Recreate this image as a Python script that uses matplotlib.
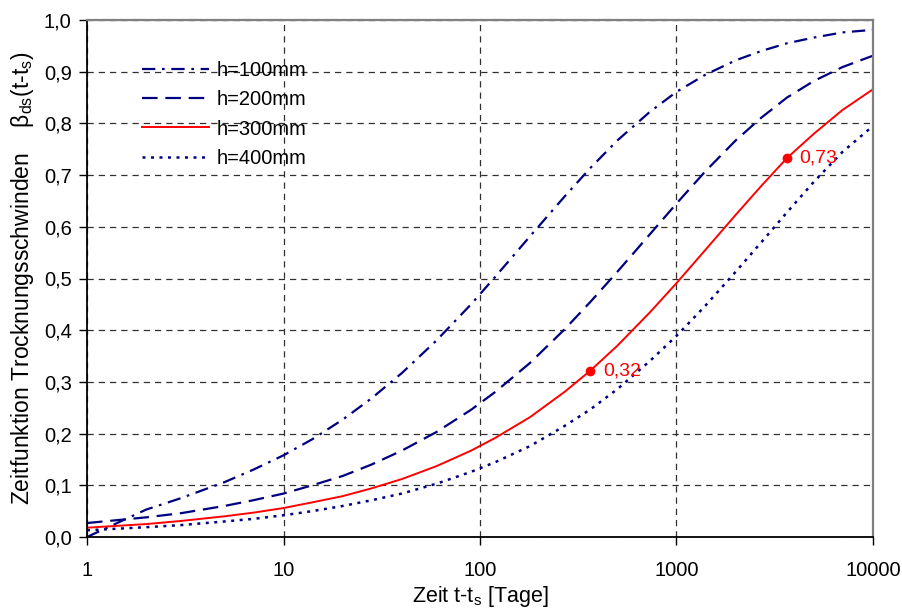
import matplotlib
matplotlib.use("Agg")
import matplotlib.pyplot as plt
from matplotlib.ticker import FixedLocator, FuncFormatter, NullLocator

plt.rcParams['font.family'] = ['Liberation Sans', 'DejaVu Sans']
plt.rcParams['mathtext.fontset'] = 'custom'
plt.rcParams['mathtext.rm'] = 'Liberation Sans'
plt.rcParams['mathtext.it'] = 'Liberation Sans:italic'

t_days = [1, 2, 3, 5, 7, 10, 14, 20, 28, 40, 60, 90, 120, 180, 270, 365,
          500, 730, 1000, 1400, 2000, 2700, 3650, 5000, 7000, 10000]

h100 = [0.0, 0.053, 0.075, 0.106, 0.130, 0.158, 0.189, 0.227, 0.268, 0.317,
        0.380, 0.450, 0.504, 0.582, 0.659, 0.714, 0.767, 0.822, 0.861, 0.894,
        0.922, 0.940, 0.955, 0.966, 0.976, 0.981]
h200 = [0.027, 0.038, 0.046, 0.060, 0.071, 0.084, 0.100, 0.118, 0.140, 0.167,
        0.203, 0.246, 0.281, 0.337, 0.402, 0.455, 0.513, 0.585, 0.645, 0.707,
        0.767, 0.811, 0.850, 0.882, 0.909, 0.931]
h300 = [0.018, 0.025, 0.031, 0.040, 0.047, 0.056, 0.067, 0.079, 0.094, 0.112,
        0.137, 0.167, 0.192, 0.232, 0.281, 0.322, 0.370, 0.434, 0.491, 0.555,
        0.623, 0.679, 0.733, 0.780, 0.826, 0.866]
h400 = [0.013, 0.019, 0.023, 0.030, 0.035, 0.042, 0.050, 0.060, 0.071, 0.084,
        0.103, 0.126, 0.145, 0.176, 0.215, 0.247, 0.286, 0.340, 0.389, 0.447,
        0.513, 0.570, 0.628, 0.687, 0.745, 0.795]

labels = ["h=100mm", "h=200mm", "h=300mm", "h=400mm"]
marked_t = [365, 3650]
marked_v = [0.322, 0.733]
marked_txt = ["0,32", "0,73"]

x_ticks = [1, 10, 100, 1000, 10000]
y_ticks = [0.0, 0.1, 0.2, 0.3, 0.4, 0.5, 0.6, 0.7, 0.8, 0.9, 1.0]

navy = "#000080"
red = "#FF0000"

fig = plt.figure(figsize=(9.02, 6.08), dpi=100)
ax = fig.add_axes([87/902, 1-537/608, (873-87)/902, (537-20)/608])

ax.plot(t_days, h100, color=navy, lw=1.6, linestyle=(0, (6, 3, 1.2, 3)), label=labels[0])
ax.plot(t_days, h200, color=navy, lw=1.6, linestyle=(0, (7, 3.5)), label=labels[1])
ax.plot(t_days, h300, color=red, lw=1.4, linestyle='-', label=labels[2])
ax.plot(t_days, h400, color=navy, lw=1.8, linestyle=(0, (1.2, 2.2)), label=labels[3])

ax.plot(marked_t, marked_v, 'o', color=red, ms=6, zorder=5)
for xt, yv, s in zip(marked_t, marked_v, marked_txt):
    ax.annotate(s, (xt, yv), xytext=(9, 0), textcoords='offset points',
                color=red, fontsize=14, va='center', ha='left')

ax.set_xscale('log')
ax.set_xlim(1, 10000)
ax.set_ylim(0, 1.0)
ax.xaxis.set_major_locator(FixedLocator(x_ticks))
ax.xaxis.set_minor_locator(NullLocator())
ax.xaxis.set_major_formatter(FuncFormatter(lambda v, p: f"{v:.0f}"))
ax.yaxis.set_major_locator(FixedLocator(y_ticks))
ax.yaxis.set_major_formatter(FuncFormatter(lambda v, p: f"{v:.1f}".replace('.', ',')))

ax.grid(True, which='major', color='#303030', lw=0.9, linestyle=(0, (5, 4)))
ax.set_axisbelow(True)

ax.tick_params(axis='both', labelsize=14.5, direction='out', length=6, width=1, color='black')
ax.tick_params(axis='x', pad=11)
ax.tick_params(axis='y', pad=5)

for s in ['left', 'bottom']:
    ax.spines[s].set_color('black')
    ax.spines[s].set_linewidth(1.3)
for s in ['top', 'right']:
    ax.spines[s].set_color('#808080')
    ax.spines[s].set_linewidth(1.6)

ax.set_xlabel(r"Zeit t-t$_{\rm s}$ [Tage]", fontsize=15.5, labelpad=3)
ax.set_ylabel("Zeitfunktion Trocknungsschwinden    β$_{\\rm ds}$(t-t$_{\\rm s}$)",
              fontsize=16.5)
ax.yaxis.set_label_coords((36 - 87) / 786, 0.5)

leg = ax.legend(loc='upper left', bbox_to_anchor=(0.047, 0.955), frameon=False,
                fontsize=14.5, handlelength=3.3, labelspacing=0.5, handletextpad=0.4)

fig.savefig("out.png", dpi=100)
